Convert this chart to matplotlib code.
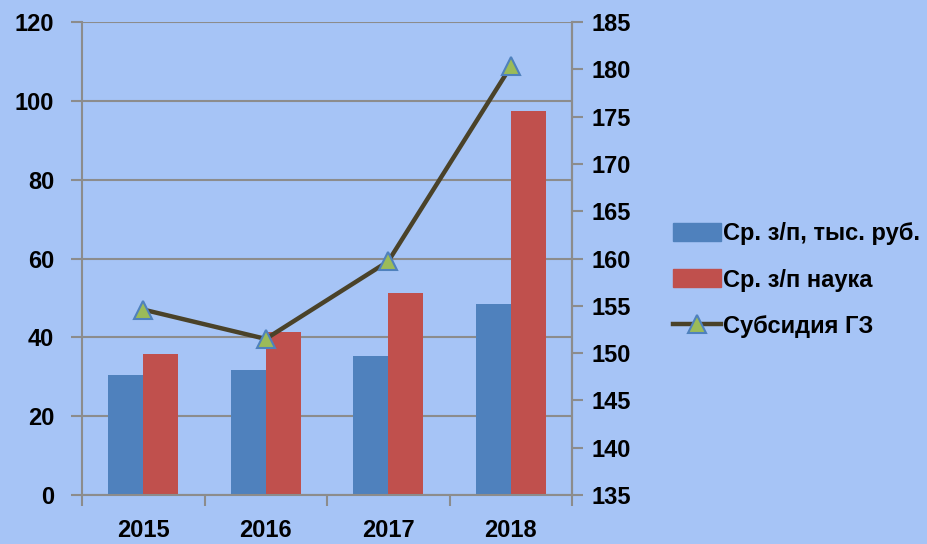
import matplotlib
matplotlib.use("Agg")
import matplotlib.pyplot as plt
import numpy as np
from matplotlib.lines import Line2D
from matplotlib.patches import Patch

years = ["2015", "2016", "2017", "2018"]
avg_salary = [30.5, 31.7, 35.3, 48.5]
avg_salary_science = [35.8, 41.4, 51.3, 97.5]
subsidy = [154.6, 151.5, 159.7, 180.3]

name_salary = "Ср. з/п, тыс. руб."
name_science = "Ср. з/п наука"
name_subsidy = "Субсидия ГЗ"

bg = "#a6c4f6"
blue = "#4f81bd"
red = "#c0504d"
olive = "#4a4229"
green = "#9bbb59"
grid_c = "#8c8c8c"

plt.rcParams['font.family'] = ['Liberation Sans', 'DejaVu Sans']
plt.rcParams['font.weight'] = 'bold'

fig = plt.figure(figsize=(9.28, 5.44), dpi=100, facecolor=bg)
ax = fig.add_axes([82/928, 1-495/544, (572-82)/928, (495-22)/544])
ax.set_facecolor(bg)

fs = 17
x = np.arange(len(years))
w = 0.285
ax.bar(x - w/2, avg_salary, w, color=blue, zorder=2)
ax.bar(x + w/2, avg_salary_science, w, color=red, zorder=2)
ax.set_xlim(-0.5, len(years) - 0.5)
ax.set_ylim(0, 120)
ax.set_yticks(range(0, 121, 20))
ax.yaxis.grid(True, color=grid_c, linewidth=1.5, zorder=0)
ax.set_axisbelow(True)
ax.set_xticks(x)
ax.set_xticklabels(years)
ax.set_xticks(np.arange(-0.5, len(years)), minor=True)
ax.tick_params(axis='x', which='major', length=0, pad=17, labelsize=fs)
ax.tick_params(axis='x', which='minor', length=8, width=1.5, color=grid_c)
ax.tick_params(axis='y', length=8, width=1.5, color=grid_c, labelsize=fs, pad=12)
for s in ['top']:
    ax.spines[s].set_visible(False)
for s in ['left', 'bottom', 'right']:
    ax.spines[s].set_color(grid_c)
    ax.spines[s].set_linewidth(1.5)
for lab in ax.get_xticklabels() + ax.get_yticklabels():
    lab.set_fontweight('bold')

ax2 = ax.twinx()
ax2.plot(x, subsidy, color=olive, linewidth=3.2, marker='^', markersize=13,
         markerfacecolor=green, markeredgecolor=blue, markeredgewidth=1.5, zorder=5)
ax2.set_ylim(135, 185)
ax2.set_yticks(range(135, 186, 5))
ax2.tick_params(axis='y', length=8, width=1.5, color=grid_c, labelsize=fs, pad=6)
for lab in ax2.get_yticklabels():
    lab.set_fontweight('bold')
for s in ['top', 'left', 'bottom']:
    ax2.spines[s].set_visible(False)
ax2.spines['right'].set_color(grid_c)
ax2.spines['right'].set_linewidth(1.5)

handles = [Patch(color=blue), Patch(color=red),
           Line2D([], [], color=olive, linewidth=3.2, marker='^', markersize=13,
                  markerfacecolor=green, markeredgecolor=blue, markeredgewidth=1.5)]
fig.legend(handles, [name_salary, name_science, name_subsidy],
           loc='center left', bbox_to_anchor=(664/928, 1-280/544), frameon=False,
           prop={'size': fs, 'weight': 'bold'}, handlelength=2.0, handleheight=0.8,
           labelspacing=1.0, handletextpad=0.1, borderaxespad=0)

fig.savefig("out.png", dpi=100, facecolor=bg)
